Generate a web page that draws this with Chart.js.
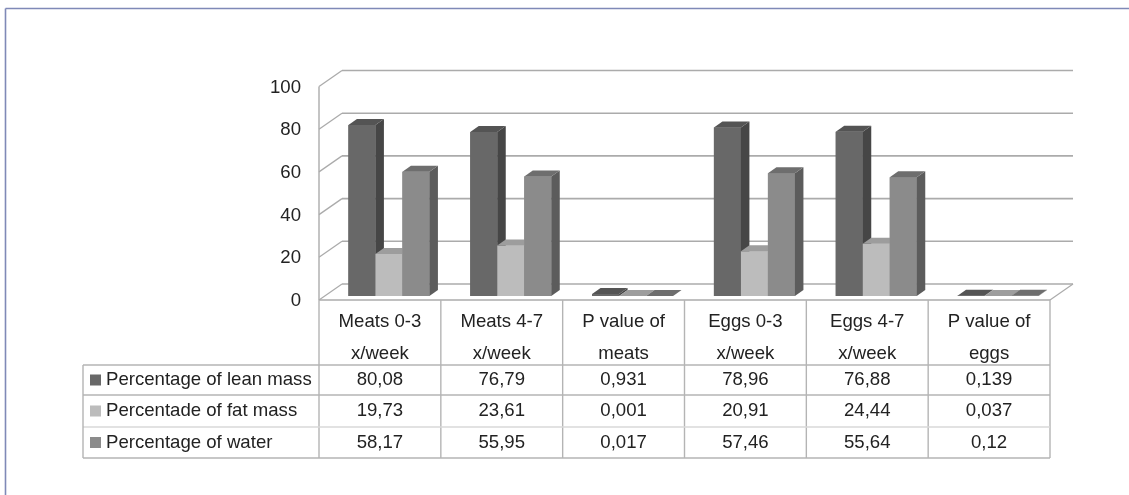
<!DOCTYPE html>
<html>
<head>
<meta charset="utf-8">
<title>Body composition by meat and egg intake</title>
<script src="https://cdn.jsdelivr.net/npm/chart.js@4.4.1/dist/chart.umd.min.js"></script>
<style>
  html, body { margin: 0; padding: 0; background: #ffffff; }
  canvas { display: block; }
</style>
</head>
<body>
<canvas id="chart" width="1129" height="495"></canvas>
<script>
// ---- data ----
const categories = [
  ['Meats 0-3', 'x/week'],
  ['Meats 4-7', 'x/week'],
  ['P value of', 'meats'],
  ['Eggs 0-3', 'x/week'],
  ['Eggs 4-7', 'x/week'],
  ['P value of', 'eggs']
];
const seriesNames = ['Percentage of lean mass', 'Percentade of fat mass', 'Percentage of water'];
const leanMass = [80.08, 76.79, 0.931, 78.96, 76.88, 0.139];
const fatMass  = [19.73, 23.61, 0.001, 20.91, 24.44, 0.037];
const water    = [58.17, 55.95, 0.017, 57.46, 55.64, 0.12];
const yTicks   = [0, 20, 40, 60, 80, 100];

// ---- styling ----
const FONT = '18.6px "Liberation Sans", Arial, Helvetica, sans-serif';
const TEXT = '#222222';
const GRID = '#ababab';
const TABLE_LINE = '#b4b4b4';
const shades = [
  { front: '#686868', side: '#464646', top: '#545454' },
  { front: '#bcbcbc', side: '#8e8e8e', top: '#9d9d9d' },
  { front: '#8b8b8b', side: '#5c5c5c', top: '#6e6e6e' }
];

// oblique projection: the bars stand a little behind the front edge of the floor
const FRONT_DX = -9, FRONT_DY = 4;     // front edge relative to the bar plane
const BACK_DX = 14, BACK_DY = -12;     // back wall relative to the bar plane
const BAR_DX = 8.5, BAR_DY = 6;        // depth of a single bar

// table rows below the floor
const HEADER_LINE1 = 322, HEADER_LINE2 = 354;
const ROW_LINES = [365, 395, 427, 458];
const LEGEND_LEFT = 83;

function fmt(v) { return String(v).replace('.', ','); }

function poly(ctx, pts, fill) {
  ctx.beginPath();
  ctx.moveTo(pts[0][0], pts[0][1]);
  for (let i = 1; i < pts.length; i++) ctx.lineTo(pts[i][0], pts[i][1]);
  ctx.closePath();
  ctx.fillStyle = fill;
  ctx.fill();
}

function line(ctx, x1, y1, x2, y2, color, w) {
  ctx.beginPath();
  ctx.moveTo(x1, y1);
  ctx.lineTo(x2, y2);
  ctx.strokeStyle = color;
  ctx.lineWidth = w;
  ctx.stroke();
}

const chart3d = {
  id: 'chart3d',
  beforeDraw(chart) {
    const ctx = chart.ctx;
    ctx.save();
    // outer frame
    line(ctx, 5.5, 8.5, chart.width, 8.5, '#7f89b7', 1.6);
    line(ctx, 5.5, 8.5, 5.5, chart.height, '#7f89b7', 1.6);
    ctx.restore();
  },
  beforeDatasetsDraw(chart) {
    const ctx = chart.ctx;
    const y = chart.scales.y;
    const a = chart.chartArea;
    const fl = a.left + FRONT_DX, fr = a.right + FRONT_DX;
    const bl = a.left + BACK_DX, br = a.right + BACK_DX;
    ctx.save();
    ctx.lineCap = 'butt';
    yTicks.forEach(v => {
      const py = y.getPixelForValue(v);
      // back wall gridline and side-wall diagonal
      line(ctx, bl, py + BACK_DY, br, py + BACK_DY, GRID, 1.6);
      line(ctx, fl, py + FRONT_DY, bl, py + BACK_DY, GRID, 1.3);
      // tick label
      ctx.font = FONT;
      ctx.fillStyle = TEXT;
      ctx.textAlign = 'right';
      ctx.textBaseline = 'middle';
      ctx.fillText(String(v), fl - 18, py + 5);
    });
    const y0 = y.getPixelForValue(0);
    // floor: front edge and right diagonal
    line(ctx, fl, y0 + FRONT_DY, fr, y0 + FRONT_DY, GRID, 1.4);
    line(ctx, fr, y0 + FRONT_DY, br, y0 + BACK_DY, GRID, 1.3);
    // vertical axis on the front left edge
    line(ctx, fl, y.getPixelForValue(100) + FRONT_DY, fl, y0 + FRONT_DY, GRID, 1.4);
    ctx.restore();
  },
  afterDatasetsDraw(chart) {
    // each bar gets its front, right side and top, series by series from left
    // to right, so that a bar's front face hides the side of its left neighbour
    const ctx = chart.ctx;
    ctx.save();
    chart.data.datasets.forEach((ds, k) => {
      const s = shades[k];
      chart.getDatasetMeta(k).data.forEach(bar => {
        const p = bar.getProps(['x', 'y', 'base', 'width'], true);
        const l = p.x - p.width / 2, r = p.x + p.width / 2;
        const top = Math.min(p.y, p.base), base = Math.max(p.y, p.base);
        bar.draw(ctx, chart.chartArea);
        poly(ctx, [[r, top], [r + BAR_DX, top - BAR_DY], [r + BAR_DX, base - BAR_DY], [r, base]], s.side);
        poly(ctx, [[l, top], [l + BAR_DX, top - BAR_DY], [r + BAR_DX, top - BAR_DY], [r, top]], s.top);
      });
    });
    ctx.restore();
  },
  afterDraw(chart) {
    const ctx = chart.ctx;
    const x = chart.scales.x;
    const y = chart.scales.y;
    const a = chart.chartArea;
    const colW = (a.right - a.left) / categories.length;
    const fl = a.left + FRONT_DX, fr = a.right + FRONT_DX;
    const headTop = y.getPixelForValue(0) + FRONT_DY;
    const tableBottom = ROW_LINES[ROW_LINES.length - 1];
    ctx.save();
    // column lines
    for (let i = 0; i <= categories.length; i++) {
      const cx = fl + i * colW;
      line(ctx, cx, headTop, cx, tableBottom, TABLE_LINE, 1.4);
    }
    // row lines
    ROW_LINES.forEach((ry, k) => {
      line(ctx, LEGEND_LEFT, ry, fr, ry, k === 2 ? '#d8d8d8' : TABLE_LINE, 1.4);
    });
    line(ctx, LEGEND_LEFT, ROW_LINES[0], LEGEND_LEFT, tableBottom, TABLE_LINE, 1.4);

    ctx.font = FONT;
    ctx.fillStyle = TEXT;
    ctx.textBaseline = 'middle';
    ctx.textAlign = 'center';
    // category headers
    categories.forEach((c, i) => {
      const cx = x.getPixelForValue(i) + FRONT_DX;
      ctx.fillText(c[0], cx, HEADER_LINE1);
      ctx.fillText(c[1], cx, HEADER_LINE2);
    });
    // series rows
    chart.data.datasets.forEach((ds, k) => {
      const ry = (ROW_LINES[k] + ROW_LINES[k + 1]) / 2;
      ctx.fillStyle = shades[k].front;
      ctx.fillRect(LEGEND_LEFT + 7, ry - 5.5, 11, 11);
      ctx.fillStyle = TEXT;
      ctx.textAlign = 'left';
      ctx.fillText(ds.label, LEGEND_LEFT + 23, ry);
      ctx.textAlign = 'center';
      ds.data.forEach((v, i) => {
        ctx.fillText(fmt(v), x.getPixelForValue(i) + FRONT_DX, ry);
      });
    });
    ctx.restore();
  }
};

const series = [leanMass, fatMass, water];
new Chart(document.getElementById('chart'), {
  type: 'bar',
  data: {
    labels: categories.map(c => c.join(' ')),
    datasets: series.map((d, k) => ({
      label: seriesNames[k],
      data: d,
      backgroundColor: shades[k].front,
      borderWidth: 0
    }))
  },
  options: {
    responsive: false,
    animation: false,
    layout: { padding: { left: 328, right: 70, top: 82.5, bottom: 199 } },
    plugins: { legend: { display: false }, tooltip: { enabled: false }, title: { display: false } },
    datasets: { bar: { categoryPercentage: 0.665, barPercentage: 1.0 } },
    scales: {
      x: { display: false, offset: true },
      y: { display: false, min: 0, max: 100, ticks: { stepSize: 20 } }
    }
  },
  plugins: [chart3d]
});
</script>
</body>
</html>
